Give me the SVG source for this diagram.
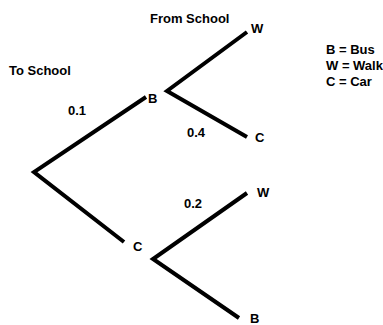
<svg xmlns="http://www.w3.org/2000/svg" width="383" height="325" viewBox="0 0 383 325">
<style>
text{font-family:"Liberation Sans",Arial,sans-serif;font-weight:bold;font-size:13px;fill:#000}
.edge{stroke:#000;stroke-width:4;fill:none;stroke-linejoin:miter}
</style>
<rect width="383" height="325" fill="#fff"/>
<g id="connectors">
<polyline class="edge" points="146,97 34,172 124,242"/>
<polyline class="edge" points="247,32 167,91 247,137"/>
<polyline class="edge" points="247,193 153,259 239,318"/>
</g>
<g id="headers">
<text x="9" y="75">To School</text>
<text x="150" y="23">From School</text>
</g>
<g id="probabilities">
<text x="68" y="115">0.1</text>
<text x="187" y="137">0.4</text>
<text x="184" y="208">0.2</text>
</g>
<g id="node-B"><text x="148" y="103">B</text></g>
<g id="node-C"><text x="133" y="251">C</text></g>
<g id="node-BW"><text x="251" y="33">W</text></g>
<g id="node-BC"><text x="255" y="142">C</text></g>
<g id="node-CW"><text x="257" y="197">W</text></g>
<g id="node-CB"><text x="250" y="323">B</text></g>
<g id="legend">
<text x="326" y="54">B = Bus</text>
<text x="326" y="70">W = Walk</text>
<text x="326" y="86">C = Car</text>
</g>
</svg>
